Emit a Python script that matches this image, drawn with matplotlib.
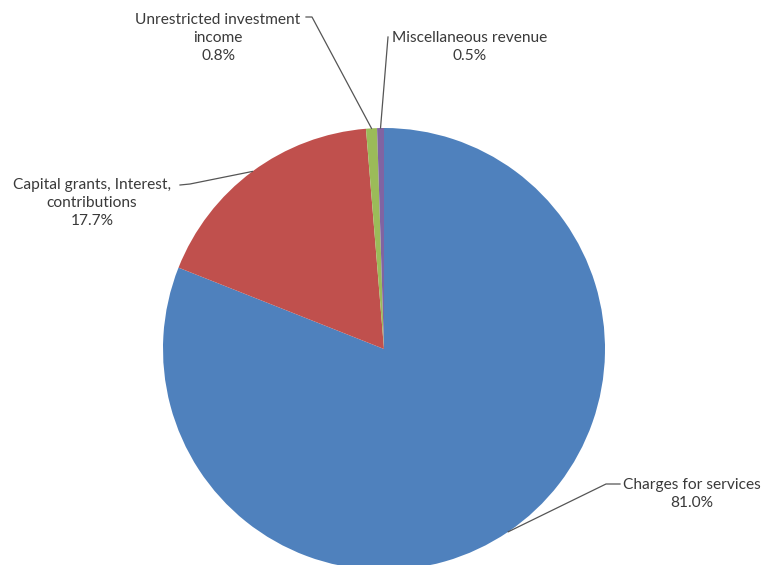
import matplotlib.pyplot as plt
import numpy as np

labels = ["Charges for services", "Capital grants, Interest,\ncontributions",
          "Unrestricted investment\nincome", "Miscellaneous revenue"]
values = [81.0, 17.7, 0.8, 0.5]
colors = ["#4F81BD", "#C0504D", "#9BBB59", "#8064A2"]

W, H = 762, 565
CX, CY, R = 384, 349, 221


def px(x, y):
    """pixel (from top-left) -> data coords of unit pie"""
    return (x - CX) / R, (CY - y) / R


fig = plt.figure(figsize=(W / 100, H / 100), dpi=100)
ax = fig.add_axes([0, 0, 1, 1])
wedges, _ = ax.pie(values, colors=colors, startangle=90, counterclock=False,
                   wedgeprops=dict(linewidth=0))
ax.set_xlim(px(0, 0)[0], px(W, 0)[0])
ax.set_ylim(px(0, H)[1], px(0, 0)[1])
ax.set_aspect('auto')
ax.axis('off')

# label text centre, leader start, leader elbow (pixel coords)
label_pos = [(692, 494), (92, 203), (218, 38), (470, 47)]
leader_start = [(620, 484), (180, 185), (306, 17), (388, 37)]
leader_elbow = [(606, 484), (190, 184), (312, 17), (388, 37)]

tcolor = "#3a3a3a"
for w, lab, v, tp, ls, le in zip(wedges, labels, values, label_pos,
                                 leader_start, leader_elbow):
    mid = np.deg2rad((w.theta1 + w.theta2) / 2)
    ex, ey = np.cos(mid), np.sin(mid)
    x0, y0 = px(*ls)
    x1, y1 = px(*le)
    ax.plot([x0, x1, ex], [y0, y1, ey], color="#555555", lw=0.9,
            clip_on=False)
    tx, ty = px(*tp)
    ax.text(tx, ty, "{}\n{:.1f}%".format(lab, v), ha='center', va='center',
            fontsize=11.2, family='Lato', color=tcolor, linespacing=1.32)

fig.savefig("out.png", dpi=100)
